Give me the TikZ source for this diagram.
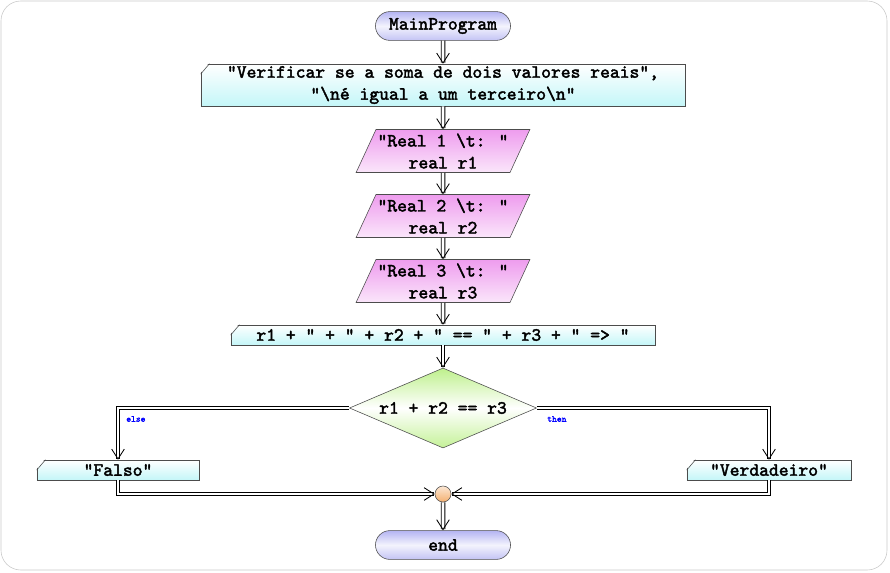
\documentclass[tikz,border=0pt]{standalone}
\usepackage{fontspec}
\usepackage{tikz}
\usetikzlibrary{shapes.geometric,shapes.misc,arrows.meta}
\newfontfamily\codefont{lmmono10-regular.otf}[FakeBold=2.2]
\definecolor{term_blue}{HTML}{B4B4F2}
\definecolor{out_cyan}{HTML}{C4F6F8}
\definecolor{in_pink}{HTML}{EE9CEE}
\definecolor{test_green}{HTML}{BEF08C}
\definecolor{join_orange}{HTML}{F4B070}
\definecolor{frame_gray}{HTML}{C8C8C8}
\tikzset{
  code/.style={font=\codefont\fontsize{13.3}{15.6}\selectfont, inner sep=0pt},
  terminal/.style={code, rounded rectangle, draw=black!70, top color=term_blue, bottom color=term_blue!80, middle color=white!85!term_blue, minimum width=3.375cm, minimum height=0.72cm},
  outbox/.style={code, rectangle, draw=black!70, top color=white, bottom color=out_cyan, align=center},
  inbox/.style={code, trapezium, trapezium left angle=61, trapezium right angle=119, trapezium stretches=true, draw=black!70, top color=in_pink, bottom color=in_pink!25, minimum width=4.35cm, minimum height=1.075cm, align=center},
  testbox/.style={code, diamond, aspect=2.3, draw=black!70, top color=test_green, bottom color=test_green!90, middle color=white, minimum width=4.675cm, minimum height=2cm},
  joinpt/.style={circle, draw=black!70, top color=join_orange!30, bottom color=join_orange, minimum size=0.4cm, inner sep=0pt},
  flow/.style={double=white, double distance=2pt, line width=0.6pt, -{Straight Barb[length=7pt,width=9pt,line width=0.6pt]}},
  branch/.style={font=\codefont\fontsize{6.5}{7}\selectfont, text=blue, inner sep=0pt}
}
\begin{document}
\begin{tikzpicture}[x=0.025cm, y=-0.025cm]
  % Frame
  \useasboundingbox (0,0) rectangle (890,573);
  \draw[frame_gray, rounded corners=14pt] (1,1) rectangle (887,570);

  % Nodes
  \node[terminal] (main) at (443,26) {MainProgram};
  \node[outbox, minimum width=12.1cm, minimum height=1.05cm] (intro) at (443,85)
    {"Verificar se a soma de dois valores reais",\\"\textbackslash né igual a um terceiro\textbackslash n"};
  \node[inbox] (r1) at (443,151) {"Real 1 \textbackslash t: "\\real r1};
  \node[inbox] (r2) at (443,216) {"Real 2 \textbackslash t: "\\real r2};
  \node[inbox] (r3) at (443,281) {"Real 3 \textbackslash t: "\\real r3};
  \node[outbox, minimum width=10.6cm, minimum height=0.5cm] (sum) at (443,335)
    {r1 + " + " + r2 + " == " + r3 + " => "};
  \node[testbox] (cond) at (443,408) {r1 + r2 == r3};
  \node[outbox, minimum width=4.05cm, minimum height=0.5cm] (falso) at (118,470) {"Falso"};
  \node[outbox, minimum width=4.1cm, minimum height=0.5cm] (verd) at (769,470) {"Verdadeiro"};
  \node[joinpt] (merge) at (443,494) {};
  \node[terminal] (end) at (443,545) {end};

  % Cut corners of the output boxes
  \foreach \outnode in {intro,sum,falso,verd} {
    \fill[white] ([shift={(-1pt,1pt)}]\outnode.north west) -- ([shift={(0.22cm,1pt)}]\outnode.north west)
      -- ([shift={(-1pt,-0.27cm)}]\outnode.north west) -- cycle;
    \draw[black!70] ([xshift=0.22cm]\outnode.north west) -- ([yshift=-0.26cm]\outnode.north west);
  }

  % Connectors
  \draw[flow] (main) -- (intro);
  \draw[flow] (intro) -- (r1);
  \draw[flow] (r1) -- (r2);
  \draw[flow] (r2) -- (r3);
  \draw[flow] (r3) -- (sum);
  \draw[flow] (sum) -- (cond);
  \draw[flow] (cond.west) -| (falso.north);
  \draw[flow] (cond.east) -| (verd.north);
  \draw[flow] (falso.south) |- (merge.west);
  \draw[flow] (verd.south) |- (merge.east);
  \draw[flow] (merge) -- (end);

  % Branch labels
  \node[branch, anchor=west] (lelse) at (126,419) {else};
  \node[branch, anchor=west] (lthen) at (547,419) {then};
\end{tikzpicture}
\end{document}
